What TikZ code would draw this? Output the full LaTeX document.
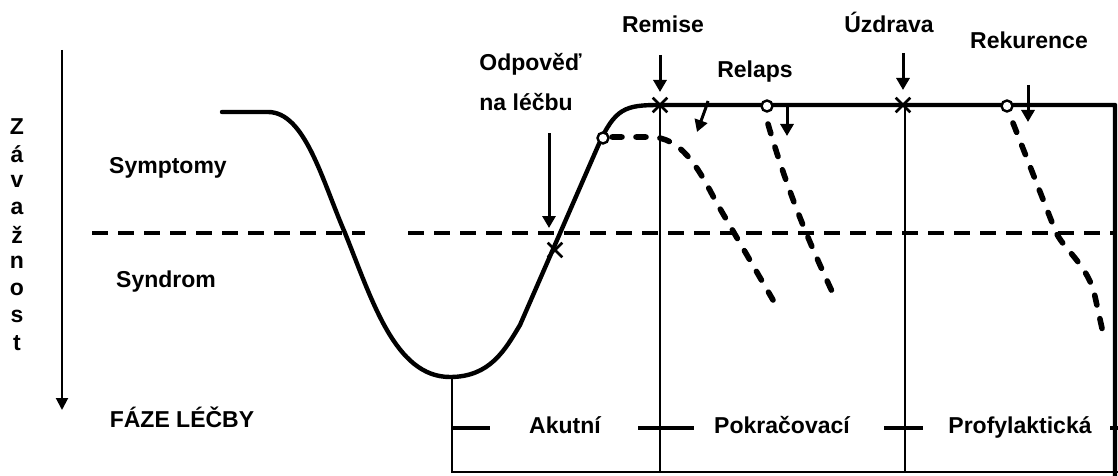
\documentclass[tikz,border=0pt]{standalone}
\usepackage{fontspec}
\setmainfont{Liberation Sans}
\usetikzlibrary{arrows.meta,shapes.misc}

\begin{document}
\begin{tikzpicture}[x=0.5pt,y=-0.5pt,
  font=\bfseries\fontsize{11.5}{13}\selectfont,
  lbl/.style={inner sep=1pt, text height=8.3pt, text depth=2.4pt},
  course/.style={line width=2.2pt, line cap=round, line join=round},
  thr/.style={line width=2pt, dash pattern=on 8pt off 5pt},
  drop/.style={line width=2.8pt, dash pattern=on 5pt off 7pt, line cap=round},
  phase/.style={line width=1.4pt},
  tick/.style={line width=2pt},
  axis/.style={line width=1pt, -{Triangle[length=6pt,width=6pt]}},
  arr/.style={line width=1.5pt, -{Triangle[length=6pt,width=6.5pt]}},
  ring/.style={circle, draw, line width=1.2pt, fill=white, inner sep=0pt, minimum size=5.5pt},
  xmark/.style={cross out, draw, line width=1.3pt, inner sep=0pt, minimum size=6pt}
]
\useasboundingbox (0,0) rectangle (1118,476);

% severity axis
\coordinate (ax0) at (62,50);
\coordinate (ax1) at (62,410);
\draw[axis] (ax0) -- (ax1);
\foreach \ch [count=\i from 0] in {Z,á,v,a,ž,n,o,s,t}
  \node[inner sep=1pt] (zv\i) at (17,127+27*\i) {\ch};

% threshold between symptoms and syndrome
\draw[thr] (92,233) -- (365,233);
\draw[thr] (408,233) -- (1115,233);

% phase borders
\draw[phase] (452,377) -- (452,472) -- (1118,472);
\draw[phase] (660,105) -- (660,472);
\draw[phase] (905,105) -- (905,472);
\draw[tick] (452,428) -- (490,428);
\draw[tick] (638,428) -- (694,428);
\draw[tick] (884,428) -- (923,428);
\draw[tick] (1110,428) -- (1118,428);

% course of the illness
\draw[course] (222,112) -- (268,112) .. controls (305,112) and (322,180) .. (345,233)
  .. controls (372,300) and (395,377) .. (450,377) .. controls (490,377) and (505,350) .. (520,325)
  -- (598,146) .. controls (615,108) and (625,105) .. (660,105) -- (1115,105) -- (1115,476);

% relapses and recurrence
\draw[drop] (612,137) -- (650,137) .. controls (680,137) and (697,165) .. (715,200) -- (773,300);
\draw[drop] (768,124) .. controls (790,200) and (815,255) .. (836,300);
\draw[drop] (1013,123) -- (1055,230) .. controls (1062,248) and (1085,262) .. (1094,292) -- (1105,342);

\node[ring] (r1) at (603,138) {};
\node[ring] (r2) at (767,106) {};
\node[ring] (r3) at (1007,106) {};
\node[xmark] (x1) at (555,250) {};
\node[xmark] (x2) at (660,105) {};
\node[xmark] (x3) at (903,105) {};

% labels
\node[lbl] (symp) at (168,168) {Symptomy};
\node[lbl] (synd) at (166,282) {Syndrom};
\node[lbl] (faze) at (182,422) {FÁZE LÉČBY};
\node[inner sep=1pt, align=left, anchor=west, font=\bfseries\fontsize{11.5}{20}\selectfont] (odp) at (477,82) {Odpověď\\na léčbu};
\node[lbl] (rem) at (663,27) {Remise};
\node[lbl] (rel) at (755,72) {Relaps};
\node[lbl] (uzd) at (889,27) {Úzdrava};
\node[lbl] (rek) at (1029,43) {Rekurence};
\node[lbl] (aku) at (565,428) {Akutní};
\node[lbl] (pok) at (782,428) {Pokračovací};
\node[lbl] (pro) at (1020,428) {Profylaktická};

% pointers
\coordinate (odp0) at (549,133);
\coordinate (odp1) at (549,228);
\draw[arr] (odp0) -- (odp1);
\coordinate (rem0) at (660,55);
\coordinate (rem1) at (660,92);
\draw[arr] (rem0) -- (rem1);
\coordinate (uzd0) at (903,53);
\coordinate (uzd1) at (903,90);
\draw[arr] (uzd0) -- (uzd1);
\coordinate (rek0) at (1028,85);
\coordinate (rek1) at (1028,122);
\draw[arr] (rek0) -- (rek1);
\coordinate (rela0) at (708,101);
\coordinate (rela1) at (697,132);
\draw[arr] (rela0) -- (705,110) -- (rela1);
\coordinate (relb0) at (787,106);
\coordinate (relb1) at (787,136);
\draw[arr] (relb0) -- (relb1);
\end{tikzpicture}
\end{document}
